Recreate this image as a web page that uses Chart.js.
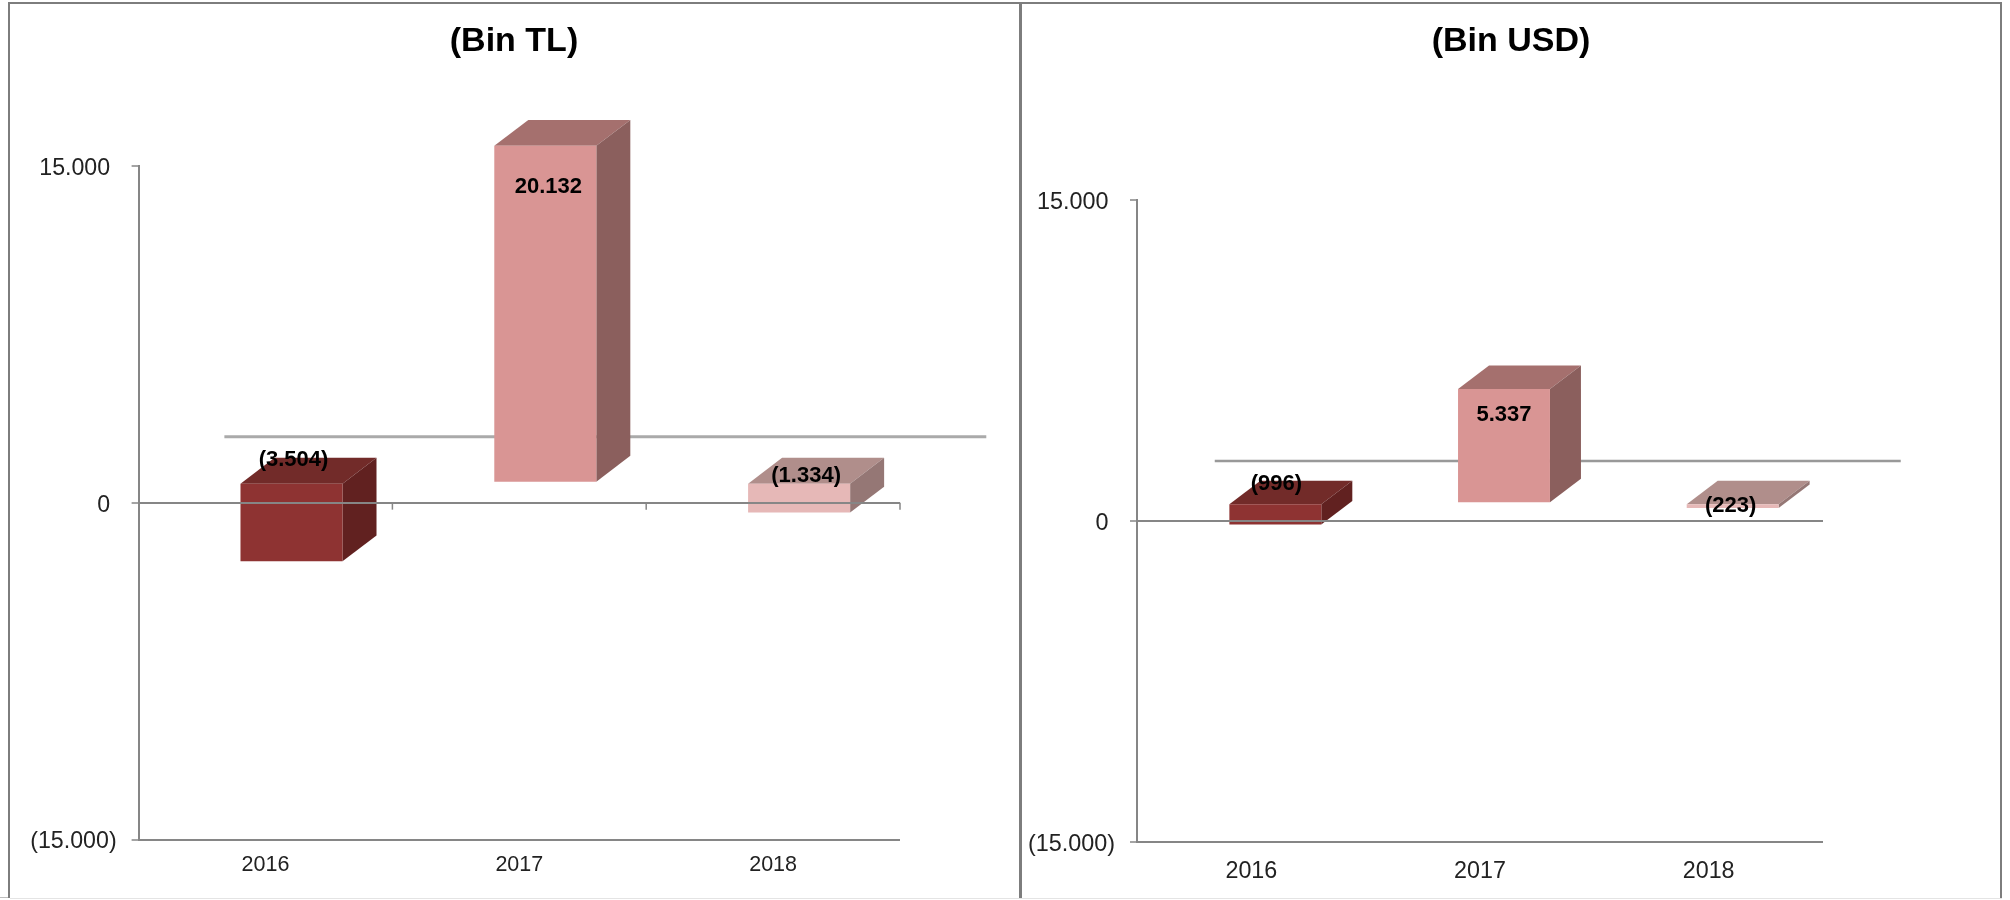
<!DOCTYPE html>
<html>
<head>
<meta charset="utf-8">
<title>Bin TL / Bin USD</title>
<script src="https://cdn.jsdelivr.net/npm/chart.js@4"></script>
<style>
  html, body { margin: 0; padding: 0; background: #fff; width: 2010px; height: 900px; overflow: hidden; }
  canvas { position: absolute; top: 0; }
  .rule { position: absolute; background: #7d7d7d; }
</style>
</head>
<body>
<div class="rule" style="left:8px;top:2px;width:1994px;height:2px"></div>
<div class="rule" style="left:8px;top:2px;width:2px;height:896px"></div>
<div class="rule" style="left:1019px;top:2px;width:3px;height:896px"></div>
<div class="rule" style="left:2000px;top:2px;width:2px;height:896px"></div>
<div class="rule" style="left:10px;top:898px;width:1992px;height:1px;background:#e4e4e4"></div>
<div class="rule" style="left:0;top:897px;width:8px;height:1px;background:#bdbdbd"></div>
<canvas id="tl" style="left:10px" width="1008" height="900"></canvas>
<canvas id="usd" style="left:1022px" width="978" height="900"></canvas>
<script>
const categories = ['2016', '2017', '2018'];
const tlValues = [-3504, 20132, -1334];
const usdValues = [-996, 5337, -223];
const yTickValues = [-15000, 0, 15000];
const titleTL = '(Bin TL)';
const titleUSD = '(Bin USD)';

const frontColors = ['#8e3332', '#d99594', '#e6b8b7'];
const topColors = ['#722b29', '#a5706e', '#b08e8b'];
const sideColors = ['#612120', '#8b5f5d', '#957775'];
const FONT = '"Liberation Sans", Arial, sans-serif';

function fmt(v) {
  const s = Math.abs(v).toString().replace(/\B(?=(\d{3})+$)/g, '.');
  return v < 0 ? '(' + s + ')' : s;
}

const yMin = yTickValues[0];
const yMax = yTickValues[yTickValues.length - 1];

const bar3d = {
  id: 'bar3d',
  beforeDatasetsDraw(chart, args, o) {
    const ctx = chart.ctx, ys = chart.scales.y, xs = chart.scales.x;
    const py = ys.getPixelForValue(o.refLine.value);
    ctx.save();
    ctx.strokeStyle = o.refLine.color;
    ctx.lineWidth = o.refLine.width;
    ctx.beginPath();
    ctx.moveTo(xs.getPixelForValue(o.refLine.from), py);
    ctx.lineTo(xs.getPixelForValue(o.refLine.to), py);
    ctx.stroke();
    chart.getDatasetMeta(0).data.forEach((b, i) => {
      const l = b.x - b.width / 2 + o.shift[0], r = b.x + b.width / 2 + o.shift[0];
      const t = Math.min(b.y, b.base) + o.shift[1], bt = Math.max(b.y, b.base) + o.shift[1];
      const dx = o.depth[0], dy = o.depth[1];
      ctx.fillStyle = topColors[i];
      ctx.beginPath();
      ctx.moveTo(l, t); ctx.lineTo(l + dx, t - dy); ctx.lineTo(r + dx, t - dy); ctx.lineTo(r, t);
      ctx.closePath(); ctx.fill();
      ctx.fillStyle = sideColors[i];
      ctx.beginPath();
      ctx.moveTo(r, t); ctx.lineTo(r + dx, t - dy); ctx.lineTo(r + dx, bt - dy); ctx.lineTo(r, bt);
      ctx.closePath(); ctx.fill();
    });
    ctx.restore();
  },
  beforeDatasetDraw(chart, args, o) {
    chart.ctx.save();
    chart.ctx.translate(o.shift[0], o.shift[1]);
  },
  afterDatasetDraw(chart) {
    chart.ctx.restore();
  },
  afterDraw(chart, args, o) {
    const ctx = chart.ctx, ys = chart.scales.y, xs = chart.scales.x;
    ctx.save();
    if (o.zeroTicks) {
      const y0 = ys.getPixelForValue(0);
      ctx.strokeStyle = '#868686';
      ctx.lineWidth = 1.5;
      [0.5, 1.5, 2.5].forEach(p => {
        const x = xs.getPixelForValue(p);
        ctx.beginPath(); ctx.moveTo(x, y0); ctx.lineTo(x, y0 + 7); ctx.stroke();
      });
    }
    ctx.fillStyle = '#000';
    ctx.textAlign = 'center';
    ctx.textBaseline = 'middle';
    chart.getDatasetMeta(0).data.forEach((b, i) => {
      ctx.font = 'bold ' + o.labelSize + 'px ' + FONT;
      const t = Math.min(b.y, b.base) + o.shift[1];
      ctx.fillText(fmt(o.values[i]), b.x + o.shift[0] + o.labelOffsets[i][0], t + o.labelOffsets[i][1]);
    });
    ctx.restore();
  }
};

function makeChart(id, title, values, p) {
  return new Chart(document.getElementById(id), {
    type: 'bar',
    plugins: [bar3d],
    data: {
      labels: categories,
      datasets: [{
        data: values.map(v => Math.min(v, yMax)),
        backgroundColor: frontColors,
        borderWidth: 0,
        clip: false,
        yAxisID: 'y',
        categoryPercentage: 1,
        barPercentage: 0.402
      }]
    },
    options: {
      responsive: false,
      devicePixelRatio: 1,
      animation: false,
      layout: { padding: 0 },
      plugins: {
        legend: { display: false },
        tooltip: { enabled: false },
        title: {
          display: true,
          text: title,
          color: '#000',
          font: { family: FONT, size: 34, weight: 'bold', lineHeight: 1.2 },
          padding: { top: 21, bottom: p.titleBottom }
        },
        bar3d: {
          values,
          shift: p.shift,
          depth: p.depth,
          refLine: p.refLine,
          zeroTicks: p.zeroTicks,
          labelSize: p.labelSize,
          labelOffsets: p.labelOffsets
        }
      },
      scales: {
        x: {
          grid: { display: false },
          border: { display: false },
          afterFit: s => { s.height = p.xHeight; },
          ticks: { color: '#222', font: { family: FONT, size: p.xFont }, padding: p.xPad, maxRotation: 0 }
        },
        y: {
          min: yMin,
          max: yMax,
          afterFit: s => { s.width = p.yWidth; },
          afterBuildTicks: s => { s.ticks = yTickValues.map(v => ({ value: v })); },
          grid: {
            z: 1,
            tickLength: 7,
            lineWidth: 2,
            tickWidth: 1.5,
            tickColor: '#868686',
            color: c => (c.tick && c.tick.value === yMax ? 'rgba(0,0,0,0)' : '#868686')
          },
          border: { display: true, color: '#868686', width: 2, z: 2 },
          ticks: {
            color: '#222',
            padding: 15,
            labelOffset: p.yLabelOffset,
            font: { family: FONT, size: p.yFont },
            callback: v => (v < 0 ? fmt(v) : fmt(v) + ' ')
          }
        },
        spacer: {
          position: 'right',
          min: yMin,
          max: yMax,
          grid: { display: false },
          border: { display: false },
          ticks: { display: false },
          afterFit: s => { s.width = p.rightGap; }
        }
      }
    }
  });
}

makeChart('tl', titleTL, tlValues, {
  rightGap: 118, titleBottom: 104, xHeight: 60.5, yWidth: 128.6, xFont: 21.5, yFont: 23.2, xPad: 5, yLabelOffset: 2.5,
  shift: [26, -20], depth: [34, 25.8],
  refLine: { value: 2933, from: -0.162, to: 2.84, color: '#aaaaaa', width: 3 },
  zeroTicks: true,
  labelSize: 22,
  labelOffsets: [[2, -24], [3, 41], [7, -8]]
});
makeChart('usd', titleUSD, usdValues, {
  rightGap: 177, titleBottom: 138, xHeight: 58.4, yWidth: 115, xFont: 23.3, yFont: 23.4, xPad: 8, yLabelOffset: 3,
  shift: [24, -17.5], depth: [31, 23.5],
  refLine: { value: 2790, from: -0.16, to: 2.84, color: '#999999', width: 2.5 },
  zeroTicks: false,
  labelSize: 22,
  labelOffsets: [[1, -20], [0, 26], [-2, 2]]
});
</script>
</body>
</html>
